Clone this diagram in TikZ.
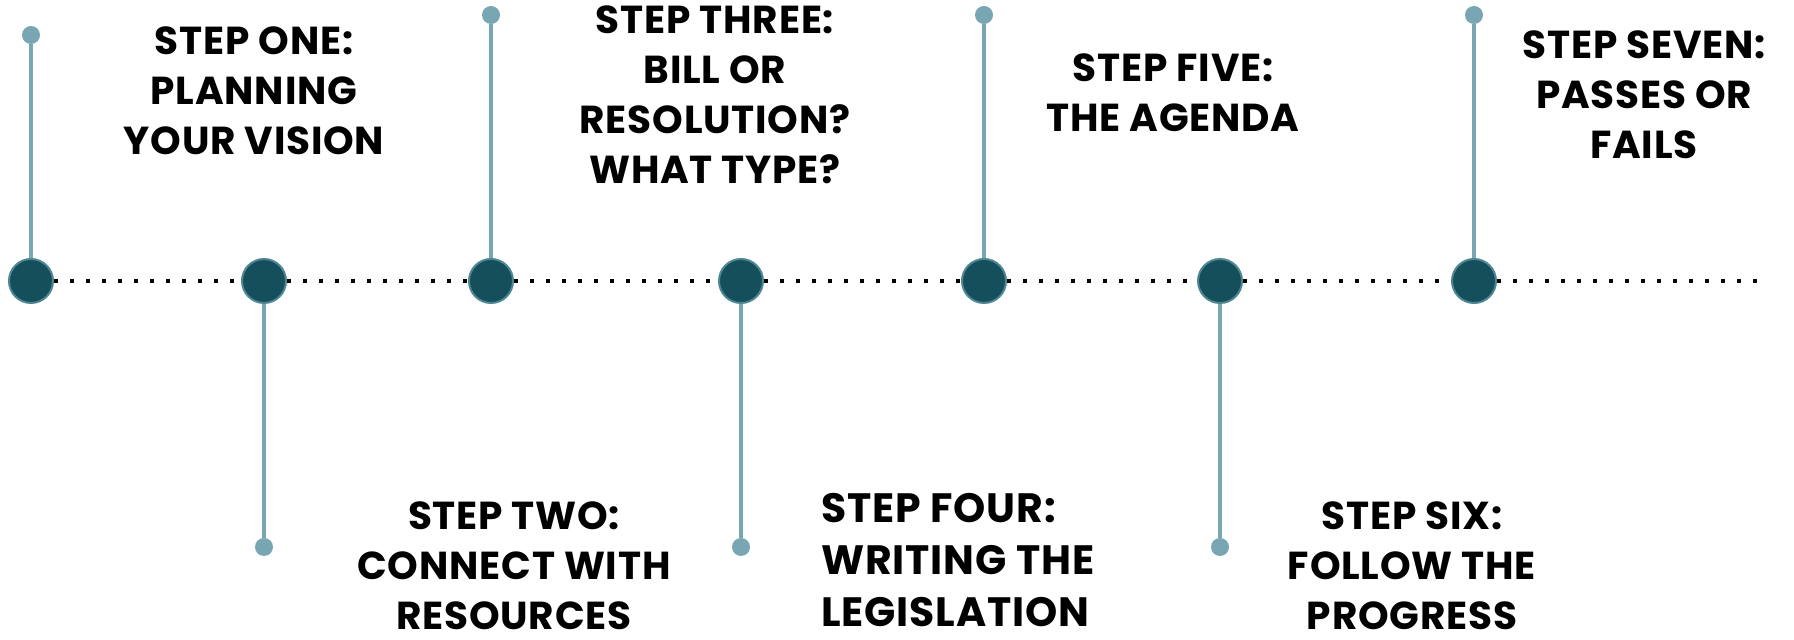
\documentclass[tikz,border=0pt]{standalone}
\usepackage{fontspec}
\setmainfont{Poppins}[LetterSpace=2]
\definecolor{stepdark}{HTML}{164F5C}
\definecolor{steprim}{HTML}{4E8692}
\definecolor{steplight}{HTML}{78A6B2}
\tikzset{
  bigdot/.style={circle, fill=stepdark, draw=steprim, line width=1pt, minimum size=22pt, inner sep=0pt},
  smalldot/.style={circle, fill=steplight, minimum size=9pt, inner sep=0pt},
  stem/.style={steplight, line width=2pt},
  dotline/.style={line width=2pt, dash pattern=on 2pt off 6pt},
  steptext/.style={align=center, inner sep=0pt, font=\fontsize{19.5pt}{25pt}\selectfont\bfseries}
}
\begin{document}
\begin{tikzpicture}[x=0.5pt, y=-0.5pt]
\useasboundingbox (0,0) rectangle (1794,640);

\node[bigdot] (C1) at (31,281) {};
\node[bigdot] (C2) at (264,281) {};
\node[bigdot] (C3) at (491,281) {};
\node[bigdot] (C4) at (741,281) {};
\node[bigdot] (C5) at (984,281) {};
\node[bigdot] (C6) at (1220,281) {};
\node[bigdot] (C7) at (1474,281) {};
\coordinate (E) at (1762,281);

\node[smalldot] (D1) at (31,35) {};
\node[smalldot] (D2) at (264,547) {};
\node[smalldot] (D3) at (491,15) {};
\node[smalldot] (D4) at (741,547) {};
\node[smalldot] (D5) at (984,15) {};
\node[smalldot] (D6) at (1220,547) {};
\node[smalldot] (D7) at (1474,15) {};

\node[steptext] (T1) at (254,91) {STEP ONE:\\PLANNING\\YOUR VISION};
\node[steptext] (T2) at (514,566) {STEP TWO:\\CONNECT WITH\\RESOURCES};
\node[steptext] (T3) at (715,95) {STEP THREE:\\BILL OR\\RESOLUTION?\\WHAT TYPE?};
\node[steptext, align=left, anchor=west, font=\fontsize{20.5pt}{26pt}\selectfont\bfseries] (T4) at (821,560) {STEP FOUR:\\WRITING THE\\LEGISLATION};
\node[steptext] (T5) at (1173,93) {STEP FIVE:\\THE AGENDA};
\node[steptext] (T6) at (1412,566) {STEP SIX:\\FOLLOW THE\\PROGRESS};
\node[steptext] (T7) at (1644,95) {STEP SEVEN:\\PASSES OR\\FAILS};

\draw[dotline] (C1) -- (C2);
\draw[dotline] (C2) -- (C3);
\draw[dotline] (C3) -- (C4);
\draw[dotline] (C4) -- (C5);
\draw[dotline] (C5) -- (C6);
\draw[dotline] (C6) -- (C7);
\draw[dotline] (C7) -- (E);

\draw[stem] (C1) -- (D1);
\draw[stem] (C2) -- (D2);
\draw[stem] (C3) -- (D3);
\draw[stem] (C4) -- (D4);
\draw[stem] (C5) -- (D5);
\draw[stem] (C6) -- (D6);
\draw[stem] (C7) -- (D7);
\end{tikzpicture}
\end{document}
